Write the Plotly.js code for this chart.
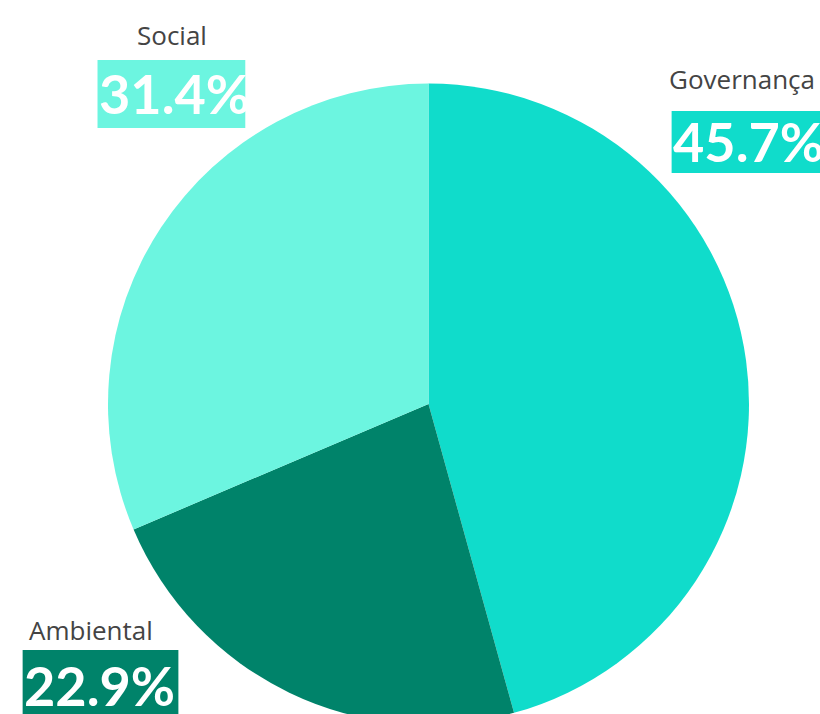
<!DOCTYPE html>
<html>
<head>
<meta charset="utf-8">
<script src="https://cdn.plot.ly/plotly-3.0.1.min.js"></script>
<style>html,body{margin:0;padding:0;overflow:hidden;background:#fff;}</style>
</head>
<body>
<div id="chart"></div>
<script>
const labels = ['Governança', 'Ambiental', 'Social'];
const values = [45.7, 22.9, 31.4];
const colors = ['#10dccb', '#00836a', '#6cf5e0'];

const W = 820, H = 760;
const m = {l: 107.5, r: 70.5, t: 83, b: 35};
const pw = W - m.l - m.r, ph = H - m.t - m.b;
const px = x => (x - m.l) / pw;
const py = y => (H - m.b - y) / ph;

// [label x, label y, anchor, box left, box top, box right, box bottom]
const place = [
  [667, 79, 'left', 672, 111, 830, 173],
  [26, 630, 'left', 22, 650, 178, 720],
  [172, 35, 'center', 97, 60, 245, 128]
];

const annotations = [];
const shapes = [];
labels.forEach((lab, i) => {
  const p = place[i];
  annotations.push({
    xref: 'paper', yref: 'paper', x: px(p[0]), y: py(p[1]),
    xanchor: p[2], yanchor: 'middle', showarrow: false,
    text: lab, font: {family: '"Open Sans", sans-serif', size: 26, color: '#444'}
  });
  shapes.push({
    type: 'rect', xref: 'paper', yref: 'paper', layer: 'above',
    x0: px(p[3]), x1: px(p[5]), y0: py(p[6]), y1: py(p[4]),
    fillcolor: colors[i], line: {width: 0}
  });
  annotations.push({
    xref: 'paper', yref: 'paper', x: px(p[3] - 1), y: py((p[4] + Math.min(p[6], 714 + 6)) / 2),
    xanchor: 'left', yanchor: 'middle', showarrow: false,
    text: '<b>' + values[i].toFixed(1) + '%</b>',
    font: {family: 'Lato, sans-serif', size: 54, color: '#ffffff', weight: 900}
  });
});

const data = [{
  type: 'pie',
  labels: labels,
  values: values,
  sort: false,
  direction: 'clockwise',
  rotation: 0,
  textinfo: 'none',
  hoverinfo: 'label+percent',
  marker: {colors: colors, line: {width: 0}},
  showlegend: false
}];

const layout = {
  width: W, height: H,
  margin: m,
  paper_bgcolor: '#ffffff',
  plot_bgcolor: '#ffffff',
  showlegend: false,
  annotations: annotations,
  shapes: shapes
};

Plotly.newPlot('chart', data, layout, {displayModeBar: false, staticPlot: true});
</script>
</body>
</html>
